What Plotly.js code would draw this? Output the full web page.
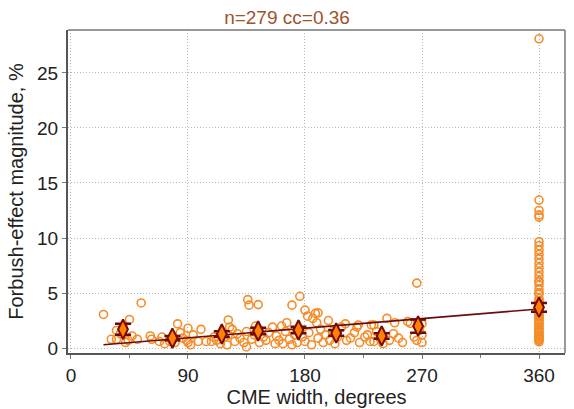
<!DOCTYPE html>
<html>
<head>
<meta charset="utf-8">
<script src="https://cdn.plot.ly/plotly-3.0.1.min.js"></script>
<style>html,body{margin:0;padding:0;background:#fff;}#chart{width:574px;height:409px;}</style>
</head>
<body>
<div id="chart"></div>
<script>
// Individual events: CME width (degrees) and Forbush-effect magnitude (%)
const widthX = [
  25,31,35,35,38,40,44,45,51,54,47,42,
  61,62,68,72,76,80,82,84,86,89,90,90,94,98,100,104,108,110,70,78,92,
  115,118,120,121,122,121,124,126,130,133,135,135,136,137,139,141,144,145,148,150,152,155,157,158,160,112,128,142,
  163,165,166,168,170,172,174,176,178,180,180,182,183,185,186,188,189,190,190,192,194,196,198,199,162,170,
  201,203,205,208,211,212,215,218,220,221,222,226,228,230,231,233,233,235,238,240,
  243,245,248,249,252,255,259,261,264,266,266,268,270,270,270,
  360,360,360,360,360,360,360,360,360,360,360,360,360,360,360,360,360,360,360,360,
  360,360,360,360,360,360,360,360,360,360,360,360,360,360,360,360,360,360,360,360,
  360,360,360,360,360,360,360,360
];
const magY = [
  3.05,0.8,0.8,1.6,1.3,1.9,0.7,2.6,0.8,4.1,1.1,0.5,
  1.1,0.8,0.6,0.4,0.6,0.5,2.2,1.4,0.9,0.7,1.8,0.5,1.2,0.6,1.7,0.6,0.6,1.0,1.0,0.8,0.3,
  0.4,1.0,0.3,2.55,1.9,1.2,1.7,0.6,0.9,0.5,1.5,0.1,4.4,3.9,0.8,1.2,3.95,0.5,1.0,0.7,1.4,1.9,0.4,1.1,0.7,0.7,1.3,2.0,
  0.4,1.5,2.3,0.8,3.9,1.2,0.5,4.7,1.0,3.45,0.6,2.9,1.4,0.3,2.7,3.15,2.3,3.2,0.9,1.7,0.5,1.2,2.5,0.7,2.0,0.3,
  1.5,0.4,1.0,1.9,2.2,0.7,0.9,1.4,1.9,2.1,0.5,1.0,1.2,0.6,2.1,2.1,0.6,1.5,0.8,0.4,
  2.7,0.7,1.3,2.3,0.9,0.5,2.4,2.25,1.0,5.9,0.7,1.6,1.2,2.2,0.5,
  28.1,13.45,12.5,12.1,11.9,9.66,9.3,8.9,8.5,8.1,7.7,7.3,6.9,6.5,6.1,5.7,5.3,4.9,4.5,4.1,
  3.8,3.5,3.2,2.9,2.6,2.3,2.0,1.7,1.4,1.1,0.8,0.57,4.0,3.0,2.5,1.5,1.0,0.9,2.2,3.6,
  5.0,6.0,1.2,0.7,1.8,2.8,3.3,4.3
];
// Bin means with standard errors
const binX = [40, 78, 116, 144, 175, 204, 239, 267, 360];
const binY = [1.7, 0.9, 1.27, 1.55, 1.64, 1.36, 1.1, 2.0, 3.7];
const binErr = [0.5, 0.2, 0.25, 0.3, 0.3, 0.25, 0.25, 0.6, 0.4];
// Regression line end points
const fitX = [25, 360];
const fitY = [0.3, 3.55];
const xTicks = [0, 90, 180, 270, 360];
const yTicks = [0, 5, 10, 15, 20, 25];

const fontFam = 'Liberation Sans, Arial, sans-serif';
const traces = [
  {x: widthX, y: magY, type: 'scatter', mode: 'markers',
   marker: {symbol: 'circle-open', size: 8, color: 'rgb(245,140,40)', line: {width: 1.6, color: 'rgb(245,140,40)'}},
   hoverinfo: 'x+y'},
  {x: fitX, y: fitY, type: 'scatter', mode: 'lines',
   line: {color: '#6b0a0a', width: 1.6}},
  {x: binX, y: binY, type: 'scatter', mode: 'markers',
   error_y: {type: 'data', array: binErr, visible: true, color: '#6b0a0a', thickness: 2.5, width: 8},
   marker: {symbol: 'diamond-tall', size: 14, color: 'rgb(255,130,0)', line: {width: 2, color: '#7a0a00'}}}
];

const axisCommon = {
  showgrid: true, gridcolor: '#b8b8b8', griddash: '1px,2px', gridwidth: 1,
  zeroline: false, showline: true, linecolor: '#555', linewidth: 2,
  ticks: 'outside', ticklen: 4, tickcolor: '#777', tickwidth: 1,
  tickfont: {family: fontFam, size: 19, color: '#222'}
};

const layout = {
  width: 574, height: 409,
  margin: {l: 68, r: 9, t: 30, b: 56},
  paper_bgcolor: '#fff', plot_bgcolor: '#fff',
  showlegend: false,
  title: {text: 'n=279 cc=0.36', font: {family: fontFam, size: 19, color: '#a0522d'}, x: 0.5, xref: 'container', xanchor: 'center', y: 0.958, yanchor: 'middle'},
  xaxis: Object.assign({}, axisCommon, {
    range: [-2.3, 380], tickmode: 'array', tickvals: xTicks, ticktext: xTicks.map(String),
    minor: {tickmode: 'linear', tick0: 0, dtick: 45, ticks: 'outside', ticklen: 3, tickcolor: '#777', showgrid: false},
    title: {text: 'CME width, degrees', font: {family: fontFam, size: 20, color: '#222'}, standoff: 1},
    automargin: false
  }),
  yaxis: Object.assign({}, axisCommon, {
    range: [-0.45, 28.9], tickmode: 'array', tickvals: yTicks, ticktext: yTicks.map(String),
    title: {text: 'Forbush-effect magnitude, %', font: {family: fontFam, size: 20, color: '#222'}, standoff: 8},
    automargin: false
  }),
  shapes: [
    {type: 'line', xref: 'paper', yref: 'paper', x0: 0, x1: 1, y0: 1, y1: 1, line: {color: '#777', width: 1.5}},
    {type: 'line', xref: 'paper', yref: 'paper', x0: 1, x1: 1, y0: 0, y1: 1, line: {color: '#777', width: 1.5}}
  ]
};

Plotly.newPlot('chart', traces, layout, {displayModeBar: false, staticPlot: true});
</script>
</body>
</html>
